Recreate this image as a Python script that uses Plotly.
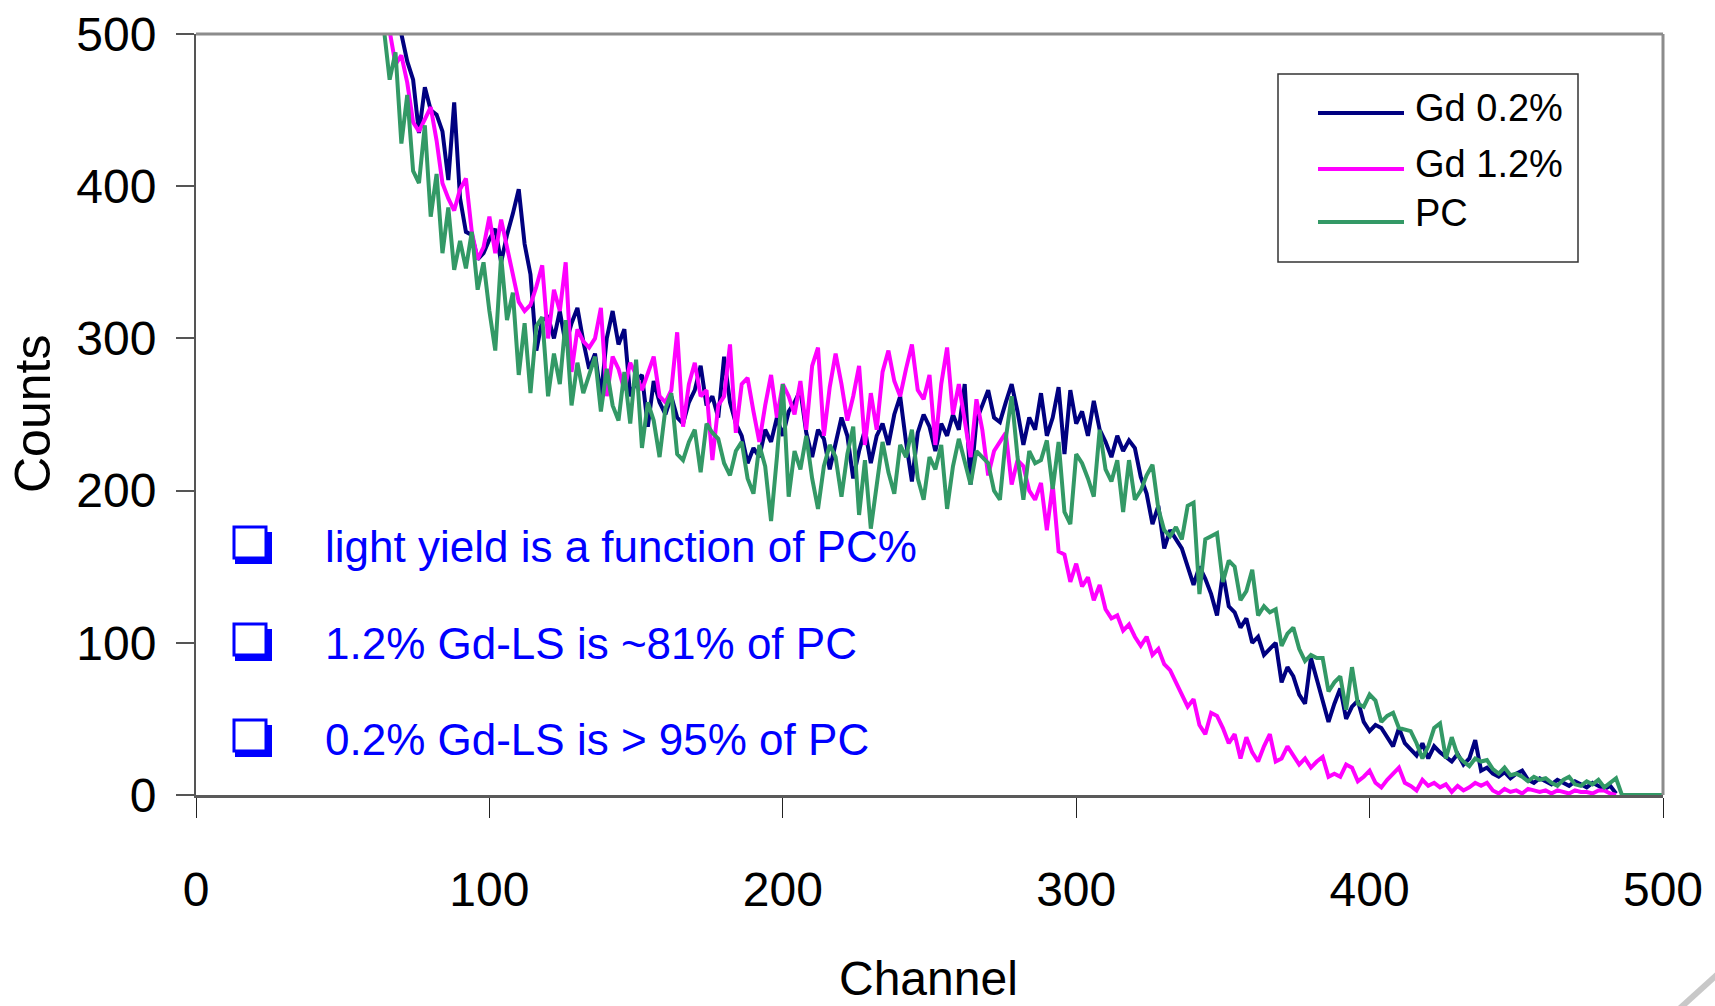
import plotly.graph_objects as go

# ---------------- data ----------------
channels = list(range(64, 502, 2))  # channel axis, every 2nd channel

gd02 = [540, 530, 515, 500, 482, 470, 435, 465, 450, 447, 436, 404, 455, 392, 370, 368, 352, 356, 365, 372,
        350, 368, 382, 398, 362, 342, 292, 312, 314, 300, 318, 296, 310, 320, 298, 280, 290, 262, 300, 318,
        296, 306, 262, 272, 276, 242, 272, 258, 250, 262, 248, 244, 258, 266, 282, 256, 262, 248, 288, 258,
        244, 236, 218, 228, 222, 240, 232, 248, 236, 252, 258, 266, 238, 222, 240, 234, 214, 232, 248, 236,
        208, 226, 240, 218, 236, 244, 230, 250, 262, 232, 206, 238, 250, 242, 226, 244, 236, 250, 240, 270,
        204, 246, 256, 266, 248, 245, 258, 270, 252, 230, 248, 240, 264, 236, 248, 268, 224, 266, 244, 252,
        236, 259, 240, 232, 222, 236, 226, 233, 228, 209, 198, 178, 190, 162, 174, 168, 162, 150, 138, 150,
        142, 132, 118, 146, 124, 120, 110, 116, 100, 104, 92, 96, 100, 74, 84, 78, 66, 60, 90, 76,
        62, 48, 60, 70, 50, 58, 62, 48, 42, 46, 44, 38, 32, 44, 34, 30, 26, 34, 24, 32,
        28, 25, 22, 27, 20, 24, 36, 16, 18, 14, 12, 15, 11, 14, 16, 10, 8, 11, 9, 7,
        10, 8, 6, 9, 7, 5, 8, 6, 4, 6, 1]

gd12 = [520, 502, 480, 486, 468, 442, 436, 444, 452, 430, 402, 392, 384, 398, 405, 370, 352, 360, 380, 356,
        378, 360, 342, 324, 318, 322, 334, 348, 300, 332, 318, 350, 278, 306, 298, 294, 300, 320, 262, 288,
        280, 266, 284, 276, 266, 278, 288, 262, 258, 266, 304, 242, 270, 284, 262, 266, 220, 256, 262, 296,
        238, 270, 274, 252, 232, 256, 276, 248, 270, 262, 250, 272, 240, 282, 294, 236, 268, 290, 270, 246,
        262, 282, 230, 264, 240, 278, 292, 272, 262, 280, 296, 266, 260, 276, 230, 270, 294, 250, 270, 246,
        222, 260, 240, 210, 226, 232, 238, 204, 220, 216, 200, 194, 205, 174, 204, 160, 158, 140, 152, 137,
        143, 128, 138, 122, 116, 118, 108, 112, 104, 98, 104, 92, 96, 86, 82, 74, 66, 58, 63, 46,
        40, 54, 52, 44, 34, 40, 24, 38, 28, 22, 32, 40, 22, 24, 32, 26, 20, 24, 18, 22,
        25, 12, 14, 12, 20, 18, 9, 12, 16, 8, 5, 10, 14, 18, 8, 6, 3, 10, 6, 8,
        5, 7, 2, 6, 3, 5, 8, 6, 8, 3, 1, 4, 2, 3, 1, 4, 3, 2, 3, 1,
        3, 2, 1, 3, 2, 2, 1, 3, 3, 1, 0]

pc = [504, 470, 488, 428, 460, 410, 402, 440, 380, 408, 356, 386, 345, 364, 346, 370, 332, 350, 318, 292,
      354, 312, 330, 276, 310, 264, 308, 314, 262, 290, 270, 312, 256, 284, 264, 276, 288, 252, 280, 256,
      246, 278, 244, 286, 228, 258, 246, 222, 254, 264, 224, 220, 232, 240, 212, 244, 238, 234, 218, 210,
      226, 232, 208, 198, 230, 216, 180, 222, 270, 196, 226, 214, 236, 208, 188, 216, 230, 222, 196, 224,
      242, 184, 220, 175, 206, 232, 212, 198, 230, 222, 240, 208, 194, 222, 214, 230, 188, 216, 234, 218,
      204, 226, 222, 218, 200, 194, 234, 262, 222, 194, 226, 218, 220, 233, 201, 232, 186, 178, 224, 218,
      208, 196, 240, 214, 206, 220, 186, 220, 194, 200, 210, 217, 188, 174, 170, 176, 168, 190, 192, 132,
      168, 170, 172, 140, 154, 150, 128, 134, 148, 118, 124, 120, 122, 98, 106, 110, 96, 88, 92, 90,
      90, 68, 74, 78, 56, 84, 60, 58, 66, 62, 48, 52, 54, 44, 43, 42, 34, 24, 32, 44,
      47, 24, 38, 26, 22, 19, 24, 22, 23, 17, 14, 18, 13, 14, 12, 9, 12, 10, 11, 8,
      6, 10, 12, 7, 6, 9, 7, 10, 5, 8, 11, 0, 0, 0, 0, 0, 0, 0, 0]

series_names = ["Gd 0.2%", "Gd 1.2%", "PC"]
series_values = [gd02, gd12, pc]
series_colors = ["#000080", "#FF00FF", "#339966"]

x_ticks = [0, 100, 200, 300, 400, 500]
y_ticks = [0, 100, 200, 300, 400, 500]

notes = ["light yield is a function of PC%",
         "1.2% Gd-LS is ~81% of PC",
         "0.2% Gd-LS is > 95% of PC"]

# ---------------- figure ----------------
W, H = 1715, 1006
L, R, T, B = 196, 1663, 34, 795   # plot area in pixels


def px(xp):
    return (xp - L) / (R - L)


def py(yp):
    return (B - yp) / (B - T)


FONT = "Liberation Sans, Arial, sans-serif"

fig = go.Figure()
for name, vals, col in zip(series_names, series_values, series_colors):
    fig.add_trace(go.Scatter(
        x=channels[:len(vals)], y=vals, mode="lines", name=name,
        line=dict(color=col, width=4), showlegend=False,
    ))

shapes = []
annotations = []

# top and right frame
shapes.append(dict(type="line", xref="paper", yref="paper", x0=0, x1=1, y0=1, y1=1,
                   line=dict(color="#8c8c8c", width=3)))
shapes.append(dict(type="line", xref="paper", yref="paper", x0=1, x1=1, y0=0, y1=1,
                   line=dict(color="#8c8c8c", width=3)))

# custom legend box
shapes.append(dict(type="rect", xref="paper", yref="paper",
                   x0=px(1278), x1=px(1578), y0=py(262), y1=py(74),
                   line=dict(color="#333333", width=1.5), fillcolor="white", layer="above"))
leg_line_y = [113, 169, 222]
leg_text_y = [108, 164, 213]
for name, col, ly, ty in zip(series_names, series_colors, leg_line_y, leg_text_y):
    shapes.append(dict(type="line", xref="paper", yref="paper",
                       x0=px(1318), x1=px(1404), y0=py(ly), y1=py(ly),
                       line=dict(color=col, width=4), layer="above"))
    annotations.append(dict(xref="paper", yref="paper", x=px(1413), y=py(ty),
                            xanchor="left", yanchor="middle", showarrow=False,
                            text=name, font=dict(family=FONT, size=38, color="black")))

# blue notes with shadowed check boxes
note_cy = [546, 643, 739]
for txt, cy in zip(notes, note_cy):
    shapes.append(dict(type="rect", xref="paper", yref="paper",
                       x0=px(235), x1=px(272), y0=py(cy + 18), y1=py(cy - 14),
                       line=dict(width=0), fillcolor="#0000FF", layer="above"))
    shapes.append(dict(type="rect", xref="paper", yref="paper",
                       x0=px(234), x1=px(266), y0=py(cy + 12), y1=py(cy - 19),
                       line=dict(color="#0000FF", width=3), fillcolor="white", layer="above"))
    annotations.append(dict(xref="paper", yref="paper", x=px(323), y=py(cy),
                            xanchor="left", yanchor="middle", showarrow=False,
                            text=txt, font=dict(family=FONT, size=44, color="#0000FF")))

# axis titles
annotations.append(dict(xref="paper", yref="paper", x=px(928), y=py(978),
                        xanchor="center", yanchor="middle", showarrow=False,
                        text="Channel", font=dict(family=FONT, size=48, color="black")))
annotations.append(dict(xref="paper", yref="paper", x=px(33), y=py(414),
                        xanchor="center", yanchor="middle", showarrow=False, textangle=-90,
                        text="Counts", font=dict(family=FONT, size=50, color="black")))

# slide-corner decoration
shapes.append(dict(type="line", xref="paper", yref="paper",
                   x0=px(1678), x1=px(1720), y0=py(1010), y1=py(972),
                   line=dict(color="#c8c8c8", width=6)))

fig.update_layout(
    width=W, height=H,
    margin=dict(l=L, r=W - R, t=T, b=H - B, pad=0, autoexpand=False),
    paper_bgcolor="white", plot_bgcolor="white",
    shapes=shapes, annotations=annotations,
    showlegend=False,
    xaxis=dict(range=[0, 500], tickvals=x_ticks, ticktext=[str(v) for v in x_ticks],
               showgrid=False, zeroline=False, showline=True, linecolor="#5a5a5a", linewidth=3,
               ticks="outside", ticklen=20, tickwidth=1, tickcolor="#222222",
               tickfont=dict(family=FONT, size=48, color="black"),
               ticklabelstandoff=30, layer="below traces", fixedrange=True, automargin=False),
    yaxis=dict(range=[0, 500], tickvals=y_ticks, ticktext=[str(v) for v in y_ticks],
               showgrid=False, zeroline=False, showline=True, linecolor="#555555", linewidth=2,
               ticks="outside", ticklen=18, tickwidth=1.5, tickcolor="#555555",
               tickfont=dict(family=FONT, size=48, color="black"),
               ticklabelstandoff=10, layer="below traces", fixedrange=True, automargin=False),
)

fig.write_html("out.html")
